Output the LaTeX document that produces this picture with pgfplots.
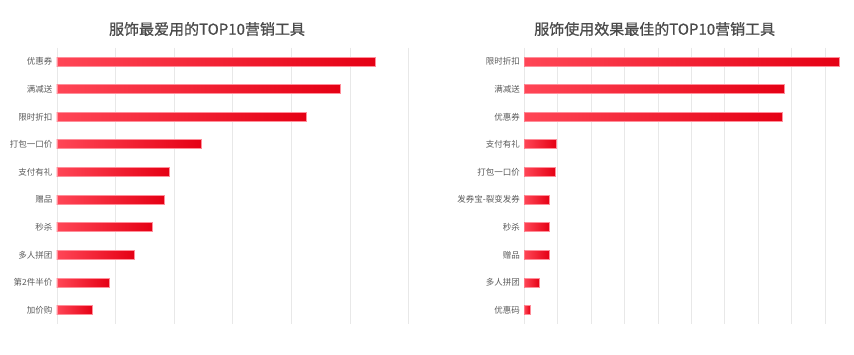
\documentclass[border=0pt]{standalone}
\usepackage{pgfplots}
\pgfplotsset{compat=1.18}
\usepackage{fontspec}
\setmainfont{Noto Sans CJK SC}
\newfontfamily\titlefont{Noto Sans CJK SC}[FakeBold=0.8]
\definecolor{barL}{HTML}{FF4656}
\definecolor{barR}{HTML}{E50014}
\definecolor{barE}{HTML}{FF8E9A}
\definecolor{gridc}{HTML}{E8E8E8}
\definecolor{titc}{HTML}{4A4A4A}
\definecolor{labc}{HTML}{5A5A5A}
\pgfplotsset{
  hb/.style={xbar, bar width=9pt, bar shift=0pt, draw=none, left color=barL, right color=barR,
    postaction={draw=barE, line width=0.9pt}},
  common/.style={scale only axis, y dir=reverse, ymin=-0.5, ymax=9.5, ytick={0,...,9},
    xmin=0, axis line style={draw=none}, major tick style={draw=none}, xticklabels={},
    xmajorgrids, grid style={gridc, line width=0.8pt},
    yticklabel style={font=\fontsize{8.5}{10}\selectfont, text=labc, xshift=-1pt}}
}
\begin{document}
\begin{tikzpicture}
\useasboundingbox (0,0) rectangle (854pt,354pt);
\node[font=\titlefont\fontsize{15}{18}\selectfont, text=titc] at (207pt,325pt) {服饰最爱用的TOP10营销工具};
\node[font=\titlefont\fontsize{15}{18}\selectfont, text=titc] at (654.7pt,325pt) {服饰使用效果最佳的TOP10营销工具};
\begin{axis}[common, at={(57pt,30pt)}, anchor=south west, width=351.7pt, height=276.3pt,
  xmax=60, xtick={0,10,...,60},
  yticklabels={优惠券,满减送,限时折扣,打包一口价,支付有礼,赠品,秒杀,多人拼团,第2件半价,加价购}]
\addplot[hb] coordinates {(54.3,0)};
\addplot[hb] coordinates {(48.3,1)};
\addplot[hb] coordinates {(42.6,2)};
\addplot[hb] coordinates {(24.7,3)};
\addplot[hb] coordinates {(19.1,4)};
\addplot[hb] coordinates {(18.3,5)};
\addplot[hb] coordinates {(16.3,6)};
\addplot[hb] coordinates {(13.2,7)};
\addplot[hb] coordinates {(8.9,8)};
\addplot[hb] coordinates {(6.1,9)};
\end{axis}
\begin{axis}[common, at={(524.3pt,30pt)}, anchor=south west, width=329.7pt, height=276.3pt,
  xmax=98.7, xtick={0,10,...,90},
  yticklabels={限时折扣,满减送,优惠券,支付有礼,打包一口价,发券宝-裂变发券,秒杀,赠品,多人拼团,优惠码}]
\addplot[hb] coordinates {(94.4,0)};
\addplot[hb] coordinates {(77.8,1)};
\addplot[hb] coordinates {(77.4,2)};
\addplot[hb] coordinates {(9.5,3)};
\addplot[hb] coordinates {(9.3,4)};
\addplot[hb] coordinates {(7.6,5)};
\addplot[hb] coordinates {(7.5,6)};
\addplot[hb] coordinates {(7.4,7)};
\addplot[hb] coordinates {(4.5,8)};
\addplot[hb] coordinates {(1.7,9)};
\end{axis}
\end{tikzpicture}
\end{document}
